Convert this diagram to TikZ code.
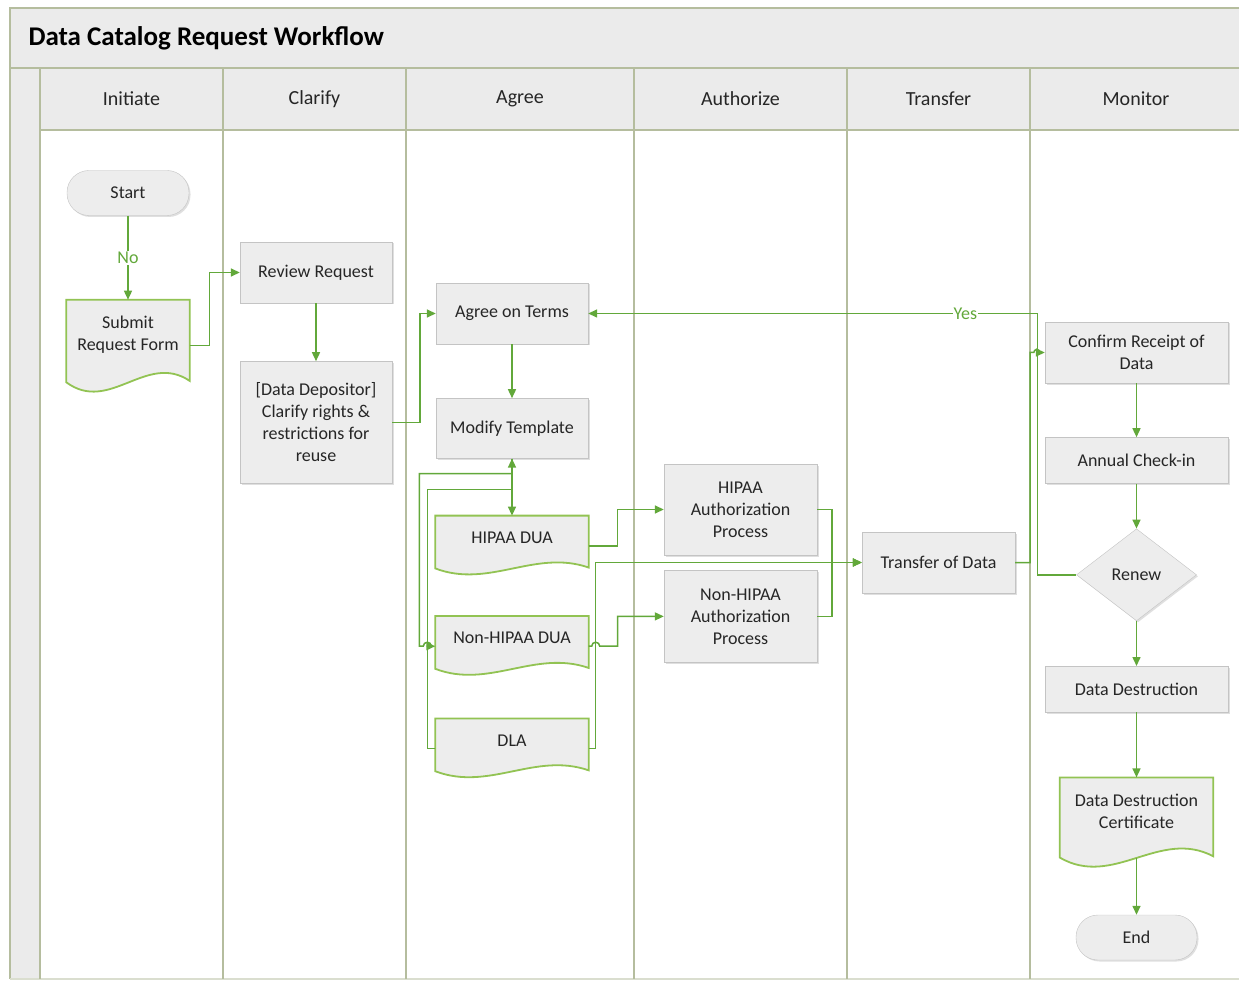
\documentclass[tikz,border=0pt]{standalone}
\usepackage{fontspec}
\setmainfont{Carlito}
\usepackage{xcolor}
\usetikzlibrary{shapes,arrows.meta,positioning,calc,backgrounds,shadows}

\definecolor{laneline}{HTML}{B5BD9E}
\definecolor{lanefill}{HTML}{EBEBEB}
\definecolor{boxfill}{HTML}{EDEDED}
\definecolor{boxline}{HTML}{C4C4C4}
\definecolor{docgreen}{HTML}{92C353}
\definecolor{flow}{HTML}{62A83A}
\definecolor{ink}{HTML}{262626}

\pgfdeclarelayer{lanes}
\pgfsetlayers{lanes,background,main}

% document shape with a wavy bottom, drawn under a named node
\newcommand{\docshape}[1]{%
  \filldraw[docline, x=1pt, y=1pt] let \p1=(#1.north west), \p2=(#1.south east),
    \n1={\x2-\x1}, \n2={\y1-\y2} in
    (\x1,\y1) -- (\x2,\y1) -- ({\x2},{\y2-0.17*\n2})
    .. controls ({\x1+0.65*\n1},{\y2+0.25*\n2}) and ({\x1+0.35*\n1},{\y2-0.65*\n2}) ..
    ({\x1},{\y2-0.19*\n2}) -- cycle;}

\begin{document}
\begin{tikzpicture}[
    x=1pt, y=-1pt,
    font=\fontsize{18}{22}\selectfont, text=ink,
    box/.style={rectangle, draw=boxline, fill=boxfill, align=center, inner sep=2pt, minimum width=152pt, minimum height=61pt, drop shadow={shadow xshift=1.5pt, shadow yshift=-1.5pt, fill=black!25}},
    stadium/.style={rectangle, rounded corners=22pt, draw=boxline, fill=boxfill, minimum width=122pt, minimum height=45pt, drop shadow={shadow xshift=1.5pt, shadow yshift=-1.5pt, fill=black!25}},
    decision/.style={diamond, aspect=1.3, draw=boxline, fill=boxfill, inner sep=0pt, minimum width=120pt, minimum height=92pt, drop shadow={shadow xshift=1.5pt, shadow yshift=-1.5pt, fill=black!25}},
    docnode/.style={rectangle, align=center, inner sep=0pt, minimum width=153pt, minimum height=44pt},
    docline/.style={draw=docgreen, fill=boxfill, line width=1.8pt},
    lanehead/.style={font=\fontsize{20}{24}\selectfont},
    flowlabel/.style={fill=white, text=flow, inner sep=1pt},
    arrow/.style={->, >={Triangle[length=9pt,width=8pt]}, draw=flow, line width=1.5pt}
]
\useasboundingbox (0,0) rectangle (1239,981);
\clip (0,0) rectangle (1239,981);

% Pool and lanes
\begin{pgfonlayer}{lanes}
\fill[lanefill] (10,8) rectangle (1250,130);
\fill[lanefill] (10,130) rectangle (40,979);
\draw[laneline, line width=1.5pt] (10,979) -- (10,8) -- (1250,8);
\draw[laneline, line width=1.5pt] (10,68) -- (1250,68);
\draw[laneline, line width=1.5pt] (40,130) -- (1250,130);
\draw[laneline!50, line width=1.5pt] (10,979) -- (1250,979);
\foreach \lx in {40,223,406,634,847,1030}
  \draw[laneline, line width=1.5pt] (\lx,68) -- (\lx,979);
\end{pgfonlayer}

\node[anchor=west, font=\fontsize{27}{32}\selectfont\bfseries, text=black] (title) at (25,38) {Data Catalog Request Workflow};
\node[lanehead] (hInit) at (131.5,99) {Initiate};
\node[lanehead] (hClar) at (314.5,99) {Clarify};
\node[lanehead] (hAgree) at (520,99) {Agree};
\node[lanehead] (hAuth) at (740.5,99) {Authorize};
\node[lanehead] (hTrans) at (938.5,99) {Transfer};
\node[lanehead] (hMon) at (1136,99) {Monitor};

% Initiate
\node[stadium] (start) at (128,193) {Start};
\node[docnode, minimum width=123pt, minimum height=69pt, below=84pt of start] (submit) {Submit\\Request Form};

% Clarify
\node[box] (review) at (316,272.5) {Review Request};
\node[box, minimum height=122pt, below=58pt of review] (clarify) {[Data Depositor]\\Clarify rights \&\\restrictions for\\reuse};

% Agree
\node[box] (terms) at (512,313.5) {Agree on Terms};
\node[box, minimum height=60pt, below=54pt of terms] (modify) {Modify Template};
\node[docnode, below=57pt of modify] (hipaa) {HIPAA DUA};
\node[docnode, below=56pt of hipaa] (nonhipaa) {Non-HIPAA DUA};
\node[docnode, below=58pt of nonhipaa] (dla) {DLA};

% Authorize
\node[box, minimum width=153pt, minimum height=91pt] (hauth) at (740.5,509.5) {HIPAA\\Authorization\\Process};
\node[box, minimum width=153pt, minimum height=92pt, below=15pt of hauth] (nauth) {Non-HIPAA\\Authorization\\Process};

% Transfer
\node[box, minimum width=153pt] (transfer) at (938.5,562.5) {Transfer of Data};

% Monitor
\node[box, minimum width=183pt] (confirm) at (1136.5,352.5) {Confirm Receipt of\\Data};
\node[box, minimum width=183pt, minimum height=46pt, below=54pt of confirm] (annual) {Annual Check-in};
\node[decision, below=45pt of annual] (renew) {Renew};
\node[box, minimum width=183pt, minimum height=46pt, below=45pt of renew] (destroy) {Data Destruction};
\node[docnode, minimum height=67pt, below=65pt of destroy] (cert) {Data Destruction\\Certificate};
\node[stadium, minimum width=121pt, below=70pt of cert] (finish) {End};

% Document outlines
\begin{pgfonlayer}{background}
\docshape{submit}
\docshape{hipaa}
\docshape{nonhipaa}
\docshape{dla}
\docshape{cert}
\end{pgfonlayer}

% Flow
\draw[arrow] (start) -- node[flowlabel] {No} (submit);
\draw[arrow] ([yshift=-11pt]submit.east) -- ++(20,0) |- (review.west);
\draw[arrow] (review) -- (clarify);
\draw[arrow] (clarify.east) -- ++(28,0) |- (terms.west);
\draw[arrow] (terms) -- (modify);
\draw[arrow] (modify) -- (hipaa);
\coordinate (mfork) at ([yshift=-15pt]modify.south);
\coordinate (mjoin) at ([yshift=-31pt]modify.south);
\draw[arrow] (mfork) -| ([xshift=-16pt,yshift=-8pt]nonhipaa.west) -- ++(4,0) arc[start angle=180, end angle=0, radius=4pt] -- ([yshift=-8pt]nonhipaa.west);
\draw[arrow] ([yshift=-8pt]dla.west) -- ++(-8,0) |- (mjoin) -- (modify.south);

\draw[arrow] ([yshift=-8pt]hipaa.east) -- ++(29,0) |- (hauth.west);
\draw[arrow] ([yshift=-8pt]nonhipaa.east) -- ++(3,0) arc[start angle=180, end angle=0, radius=4pt] -- ++(18,0) |- (nauth.west);
\draw[arrow] ([yshift=-8pt]dla.east) -- ++(7,0) |- (transfer.west);
\draw[arrow] (hauth.east) -- ++(15,0) |- (transfer.west);
\draw[arrow] (nauth.east) -- ++(15,0) |- (transfer.west);
\draw[arrow] (transfer.east) -- ++(15,0) |- ([xshift=-11pt]confirm.west) arc[start angle=180, end angle=0, radius=3pt] -- (confirm.west);

\draw[arrow] (confirm) -- (annual);
\draw[arrow] (annual) -- (renew);
\draw[arrow] (renew) -- (destroy);
\draw[arrow] (destroy) -- (cert);
\draw[arrow] ([yshift=-13pt]cert.south) -- (finish);

% Renewal loop
\draw[arrow] (renew.west) -- ++(-39,0) |- node[pos=0.58, flowlabel] {Yes} (terms.east);

\end{tikzpicture}
\end{document}
